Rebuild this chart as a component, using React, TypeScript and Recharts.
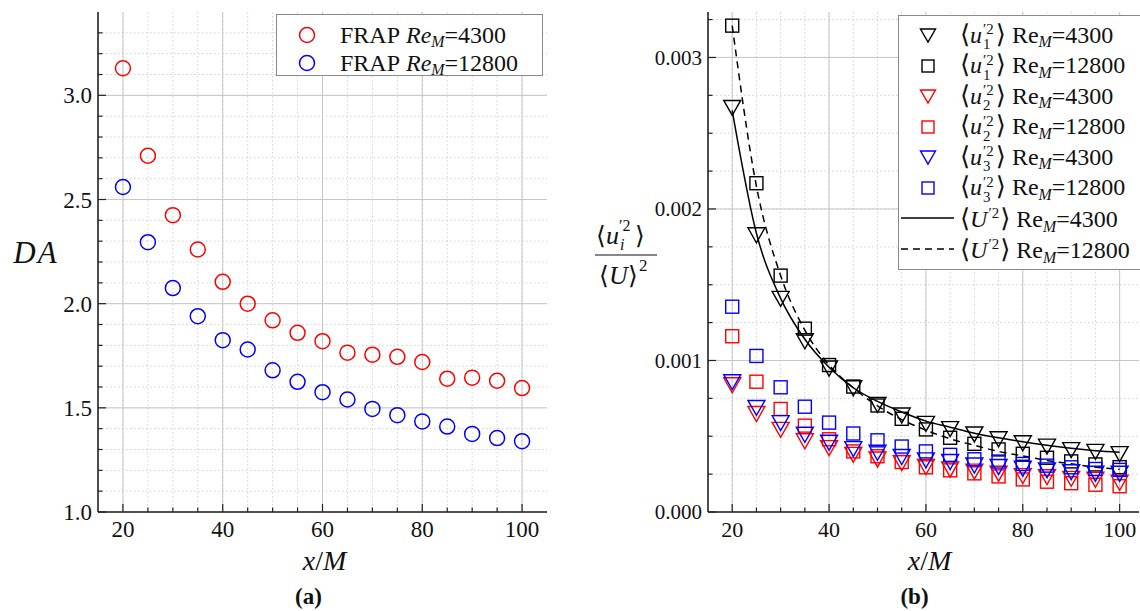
import React from 'react';
import { ComposedChart, Scatter, Line, XAxis, YAxis, CartesianGrid, Legend } from 'recharts';

// x/M stations shared by both panels
const xOverM = [20, 25, 30, 35, 40, 45, 50, 55, 60, 65, 70, 75, 80, 85, 90, 95, 100];
const xTicks = [20, 25, 30, 35, 40, 45, 50, 55, 60, 65, 70, 75, 80, 85, 90, 95, 100];
const xMajorTicks = [20, 40, 60, 80, 100];

// (a) degree of anisotropy
const daRe4300 = [3.13, 2.71, 2.425, 2.26, 2.105, 2.0, 1.92, 1.86, 1.82, 1.765, 1.755, 1.745, 1.72, 1.64, 1.645, 1.63, 1.595];
const daRe12800 = [2.56, 2.295, 2.075, 1.94, 1.825, 1.78, 1.68, 1.625, 1.575, 1.54, 1.495, 1.465, 1.435, 1.41, 1.375, 1.355, 1.34];
const daTicks = [1.0, 1.1, 1.2, 1.3, 1.4, 1.5, 1.6, 1.7, 1.8, 1.9, 2.0, 2.1, 2.2, 2.3, 2.4, 2.5, 2.6, 2.7, 2.8, 2.9, 3.0, 3.1, 3.2, 3.3];
const daMajorTicks = [1.0, 1.5, 2.0, 2.5, 3.0];

// (b) normalised velocity variances
const u1Re4300 = [0.00267, 0.00183, 0.00141, 0.00113, 0.00095, 0.00082, 0.00071, 0.00064, 0.000585, 0.00055, 0.000515, 0.000483, 0.000457, 0.000435, 0.000412, 0.0004, 0.000385];
const u1Re12800 = [0.00321, 0.00217, 0.00156, 0.00121, 0.00097, 0.000828, 0.000703, 0.000615, 0.000545, 0.00049, 0.00045, 0.000413, 0.000384, 0.000358, 0.000334, 0.000314, 0.000296];
const u2Re4300 = [0.00084, 0.00065, 0.000545, 0.00047, 0.000425, 0.00038, 0.00035, 0.000326, 0.0003, 0.000284, 0.00027, 0.000256, 0.00024, 0.000233, 0.000222, 0.000216, 0.000196];
const u2Re12800 = [0.00116, 0.00086, 0.00068, 0.00057, 0.00048, 0.0004, 0.000368, 0.00033, 0.000295, 0.000275, 0.000255, 0.000235, 0.000215, 0.0002, 0.00019, 0.00018, 0.00017];
const u3Re4300 = [0.00086, 0.00069, 0.00059, 0.000513, 0.00046, 0.000418, 0.000394, 0.000366, 0.000344, 0.000333, 0.00031, 0.0003, 0.000289, 0.000278, 0.000266, 0.000256, 0.000256];
const u3Re12800 = [0.001355, 0.00103, 0.000823, 0.000695, 0.00059, 0.000518, 0.000473, 0.000432, 0.0004, 0.000377, 0.000348, 0.000333, 0.000317, 0.000306, 0.000295, 0.000284, 0.000278];
const uTotRe4300 = [0.00265, 0.00184, 0.00141, 0.00114, 0.000955, 0.00082, 0.00073, 0.00066, 0.0006, 0.00056, 0.00052, 0.00049, 0.000463, 0.00044, 0.00042, 0.000405, 0.000395];
const uTotRe12800 = [0.00321, 0.00215, 0.00156, 0.0012, 0.00097, 0.00082, 0.0007, 0.00061, 0.00054, 0.000483, 0.00044, 0.0004, 0.00037, 0.00034, 0.000318, 0.000296, 0.000282];
const uTicks = [0, 0.00025, 0.0005, 0.00075, 0.001, 0.00125, 0.0015, 0.00175, 0.002, 0.00225, 0.0025, 0.00275, 0.003, 0.00325];
const uMajorTicks = [0, 0.001, 0.002, 0.003];

const dataA = xOverM.map((x, i) => ({ x, re4300: daRe4300[i], re12800: daRe12800[i] }));
const dataB = xOverM.map((x, i) => ({
  x,
  u1a: u1Re4300[i],
  u1b: u1Re12800[i],
  u2a: u2Re4300[i],
  u2b: u2Re12800[i],
  u3a: u3Re4300[i],
  u3b: u3Re12800[i],
  totA: uTotRe4300[i],
  totB: uTotRe12800[i],
}));

const SERIF = "'Liberation Serif', 'Times New Roman', 'DejaVu Serif', serif";
const BRACKET = "'DejaVu Serif', 'DejaVu Sans', serif";
const INK = '#111';
const AXIS = '#222';
const RED = '#ff0000';
const BLUE = '#0000ff';

type Side = 'bottom' | 'top' | 'left' | 'right';

const inList = (list: number[]) => (v: number) => list.some((m) => Math.abs(m - v) < 1e-9);

// inward tick marks (long for major, short for minor) plus the label for majors
const makeTick = (side: Side, majors: number[], fmt: ((v: number) => string) | null, fontSize: number) => {
  const isMajor = inList(majors);
  const TickMark = (props: any) => {
    const { x, y, payload } = props;
    const v = Number(payload.value);
    const major = isMajor(v);
    const len = major ? 8 : 4.5;
    let x2 = x;
    let y2 = y;
    if (side === 'bottom') y2 = y - len;
    if (side === 'top') y2 = y + len;
    if (side === 'left') x2 = x + len;
    if (side === 'right') x2 = x - len;
    const label = fmt && major ? fmt(v) : null;
    return (
      <g>
        <line x1={x} y1={y} x2={x2} y2={y2} stroke={AXIS} strokeWidth={1.2} />
        {label && side === 'bottom' && (
          <text x={x} y={y + 25} textAnchor="middle" style={{ fontFamily: SERIF }} fontSize={fontSize} fill={INK}>
            {label}
          </text>
        )}
        {label && side === 'left' && (
          <text x={x - 6} y={y} dy="0.35em" textAnchor="end" style={{ fontFamily: SERIF }} fontSize={fontSize} fill={INK}>
            {label}
          </text>
        )}
      </g>
    );
  };
  return TickMark;
};

const ring = (color: string) => (p: any) => (
  <circle cx={p.cx} cy={p.cy} r={7.5} fill="none" stroke={color} strokeWidth={1.5} />
);
const triDown = (color: string) => (p: any) => (
  <polygon
    points={`${p.cx - 8.5},${p.cy - 7} ${p.cx + 8.5},${p.cy - 7} ${p.cx},${p.cy + 8}`}
    fill="none"
    stroke={color}
    strokeWidth={1.4}
  />
);
const square = (color: string) => (p: any) => (
  <rect x={p.cx - 6.5} y={p.cy - 6.5} width={13} height={13} fill="none" stroke={color} strokeWidth={1.4} />
);

const axisLine = { stroke: AXIS, strokeWidth: 1.6 };

const xTitle = (caption: string, dxTitle: number, dxCaption: number) => (props: any) => {
  const vb = props.viewBox;
  const cx = vb.x + vb.width / 2;
  return (
    <g style={{ fontFamily: SERIF }} fill={INK}>
      <text x={cx + dxTitle} y={vb.y + 58} textAnchor="middle" fontSize={28}>
        <tspan fontStyle="italic">x</tspan>/<tspan fontStyle="italic">M</tspan>
      </text>
      <text x={cx + dxCaption} y={vb.y + 92} textAnchor="middle" fontSize={23} fontWeight="bold">
        {caption}
      </text>
    </g>
  );
};

const daTitle = (props: any) => {
  const vb = props.viewBox;
  return (
    <text x={vb.x + 36} y={vb.y + 240} dy="0.35em" textAnchor="middle" style={{ fontFamily: SERIF }} fontStyle="italic" fontSize={31} letterSpacing={2} fill={INK}>
      DA
    </text>
  );
};

// <u_i'^2> / <U>^2 drawn as a stacked fraction
const varianceTitle = (props: any) => {
  const vb = props.viewBox;
  const l = vb.x + 35;
  const mid = 255;
  return (
    <g fill={INK} style={{ fontFamily: SERIF }}>
      <text x={l + 1} y={mid - 11} style={{ fontFamily: BRACKET }} fontSize={25} fontWeight={200}>⟨</text>
      <text x={l + 11} y={mid - 11} fontSize={26} fontStyle="italic">u</text>
      <text x={l + 24} y={mid - 24} fontSize={16}>′2</text>
      <text x={l + 25} y={mid - 5} fontSize={16} fontStyle="italic">i</text>
      <text x={l + 40} y={mid - 11} style={{ fontFamily: BRACKET }} fontSize={25} fontWeight={200}>⟩</text>
      <line x1={l} x2={l + 62} y1={mid} y2={mid} stroke={INK} strokeWidth={1.2} />
      <text x={l + 4} y={mid + 29} style={{ fontFamily: BRACKET }} fontSize={25} fontWeight={200}>⟨</text>
      <text x={l + 14} y={mid + 29} fontSize={26} fontStyle="italic">U</text>
      <text x={l + 33} y={mid + 29} style={{ fontFamily: BRACKET }} fontSize={25} fontWeight={200}>⟩</text>
      <text x={l + 44} y={mid + 16} fontSize={17}>2</text>
    </g>
  );
};

// ---------- legends ----------
const legendA = [
  { color: RED, re: '4300' },
  { color: BLUE, re: '12800' },
];

const SubM = () => (
  <span style={{ fontSize: '0.66em', fontStyle: 'italic', position: 'relative', top: '0.3em' }}>M</span>
);

const LegendA = () => (
  <div
    style={{
      width: 267,
      height: 62,
      border: '1px solid #8a8a8a',
      background: '#fff',
      boxSizing: 'border-box',
      paddingTop: 6,
      fontFamily: SERIF,
      fontSize: 24,
      color: INK,
    }}
  >
    {legendA.map((e) => (
      <div key={e.re} style={{ height: 28, display: 'flex', alignItems: 'center', whiteSpace: 'nowrap' }}>
        <svg width={63} height={28} style={{ flex: 'none' }}>
          <circle cx={30} cy={14} r={7.5} fill="none" stroke={e.color} strokeWidth={1.5} />
        </svg>
        <span>
          FRAP&nbsp;<i>Re</i>
          <SubM />={e.re}
        </span>
      </div>
    ))}
  </div>
);

const legendB = [
  { mark: 'tri', color: '#000', comp: '1', re: '4300' },
  { mark: 'sq', color: '#000', comp: '1', re: '12800' },
  { mark: 'tri', color: RED, comp: '2', re: '4300' },
  { mark: 'sq', color: RED, comp: '2', re: '12800' },
  { mark: 'tri', color: BLUE, comp: '3', re: '4300' },
  { mark: 'sq', color: BLUE, comp: '3', re: '12800' },
  { mark: 'solid', color: '#000', comp: '', re: '4300' },
  { mark: 'dash', color: '#000', comp: '', re: '12800' },
];

const Bracket = ({ ch }: { ch: string }) => (
  <span style={{ fontFamily: BRACKET, fontWeight: 200, fontSize: '1.08em' }}>{ch}</span>
);

const Stack = ({ top, bottom }: { top: string; bottom: string }) => (
  <span
    style={{
      display: 'inline-flex',
      flexDirection: 'column',
      fontSize: '0.62em',
      lineHeight: 1,
      verticalAlign: 'middle',
      marginLeft: 1,
      marginRight: 2,
    }}
  >
    <span>{top}</span>
    <span>{bottom || '\u00a0'}</span>
  </span>
);

const LegendMark = ({ mark, color }: { mark: string; color: string }) => (
  <svg width={61} height={30} style={{ flex: 'none' }}>
    {mark === 'tri' && <polygon points="21.5,9 36.5,9 29,22" fill="none" stroke={color} strokeWidth={1.4} />}
    {mark === 'sq' && <rect x={23} y={9} width={12} height={12} fill="none" stroke={color} strokeWidth={1.4} />}
    {mark === 'solid' && <line x1={2} x2={55} y1={15} y2={15} stroke={color} strokeWidth={1.5} />}
    {mark === 'dash' && <line x1={2} x2={55} y1={15} y2={15} stroke={color} strokeWidth={1.5} strokeDasharray="7 5" />}
  </svg>
);

const LegendB = () => (
  <div
    style={{
      width: 300,
      height: 255,
      border: '1px solid #8a8a8a',
      background: '#fff',
      boxSizing: 'border-box',
      paddingTop: 4,
      fontFamily: SERIF,
      fontSize: 24,
      color: INK,
    }}
  >
    {legendB.map((e, i) => (
      <div key={i} style={{ height: 30.5, display: 'flex', alignItems: 'center', whiteSpace: 'nowrap' }}>
        <LegendMark mark={e.mark} color={e.color} />
        <span>
          <Bracket ch="⟨" />
          <i>{e.comp ? 'u' : 'U'}</i>
          {e.comp ? (
            <Stack top="′2" bottom={e.comp} />
          ) : (
            <span style={{ fontSize: '0.62em', position: 'relative', top: '-0.6em', marginLeft: 1, marginRight: 1 }}>′2</span>
          )}
          <Bracket ch="⟩" />
          &nbsp;Re
          <SubM />={e.re}
        </span>
      </div>
    ))}
  </div>
);

// ---------- panels ----------
const PanelA = () => (
  <ComposedChart width={560} height={611} data={dataA} margin={{ top: 12, right: 13, bottom: 0, left: 0 }}>
    <CartesianGrid horizontalValues={daTicks} verticalValues={xTicks} stroke="#d2d2d2" strokeDasharray="1.5 2.5" />
    <CartesianGrid horizontalValues={daMajorTicks} verticalValues={xMajorTicks} stroke="#c6c6c6" />
    <XAxis
      dataKey="x"
      type="number"
      domain={[15, 105]}
      ticks={xTicks}
      interval={0}
      tickSize={0}
      tickMargin={0}
      tickLine={false}
      tick={makeTick('bottom', xMajorTicks, (v) => String(v), 23)}
      axisLine={axisLine}
      height={99}
      label={{ content: xTitle('(a)', 2, -14) }}
    />
    <XAxis xAxisId="top" orientation="top" type="number" domain={[15, 105]} ticks={xTicks} interval={0} tickSize={0} tickMargin={0} tickLine={false} tick={makeTick('top', xMajorTicks, null, 23)} axisLine={axisLine} height={0} />
    <YAxis
      type="number"
      domain={[1, 3.4]}
      allowDataOverflow
      ticks={daTicks}
      interval={0}
      tickSize={0}
      tickMargin={0}
      tickLine={false}
      tick={makeTick('left', daMajorTicks, (v) => v.toFixed(1), 23)}
      axisLine={axisLine}
      width={98}
      label={{ content: daTitle }}
    />
    <YAxis yAxisId="right" orientation="right" type="number" domain={[1, 3.4]} allowDataOverflow ticks={daTicks} interval={0} tickSize={0} tickMargin={0} tickLine={false} tick={makeTick('right', daMajorTicks, null, 23)} axisLine={axisLine} width={0} />
    <Scatter dataKey="re4300" name="FRAP ReM=4300" shape={ring(RED)} isAnimationActive={false} />
    <Scatter dataKey="re12800" name="FRAP ReM=12800" shape={ring(BLUE)} isAnimationActive={false} />
    <Legend
      layout="horizontal"
      verticalAlign="middle"
      align="center"
      content={() => <LegendA />}
      wrapperStyle={{ position: 'absolute', left: 276, top: 14, width: 267, height: 62 }}
    />
  </ComposedChart>
);

const PanelB = () => (
  <ComposedChart width={580} height={611} data={dataB} margin={{ top: 12, right: 1, bottom: 0, left: 0 }}>
    <CartesianGrid horizontalValues={uTicks} verticalValues={xTicks} stroke="#d2d2d2" strokeDasharray="1.5 2.5" />
    <CartesianGrid horizontalValues={uMajorTicks} verticalValues={xMajorTicks} stroke="#c6c6c6" />
    <XAxis
      dataKey="x"
      type="number"
      domain={[15, 104]}
      allowDataOverflow
      ticks={xTicks}
      interval={0}
      tickSize={0}
      tickMargin={0}
      tickLine={false}
      tick={makeTick('bottom', xMajorTicks, (v) => String(v), 22)}
      axisLine={axisLine}
      height={99}
      label={{ content: xTitle('(b)', 6, -9) }}
    />
    <XAxis xAxisId="top" orientation="top" type="number" domain={[15, 104]} allowDataOverflow ticks={xTicks} interval={0} tickSize={0} tickMargin={0} tickLine={false} tick={makeTick('top', xMajorTicks, null, 22)} axisLine={axisLine} height={0} />
    <YAxis
      type="number"
      domain={[0, 0.0033]}
      allowDataOverflow
      ticks={uTicks}
      interval={0}
      tickSize={0}
      tickMargin={0}
      tickLine={false}
      tick={makeTick('left', uMajorTicks, (v) => v.toFixed(3), 21)}
      axisLine={axisLine}
      width={148}
      label={{ content: varianceTitle }}
    />
    <YAxis yAxisId="right" orientation="right" type="number" domain={[0, 0.0033]} allowDataOverflow ticks={uTicks} interval={0} tickSize={0} tickMargin={0} tickLine={false} tick={makeTick('right', uMajorTicks, null, 21)} axisLine={axisLine} width={0} />
    <Scatter dataKey="u1a" shape={triDown('#000')} isAnimationActive={false} />
    <Scatter dataKey="u1b" shape={square('#000')} isAnimationActive={false} />
    <Scatter dataKey="u2a" shape={triDown(RED)} isAnimationActive={false} />
    <Scatter dataKey="u2b" shape={square(RED)} isAnimationActive={false} />
    <Scatter dataKey="u3a" shape={triDown(BLUE)} isAnimationActive={false} />
    <Scatter dataKey="u3b" shape={square(BLUE)} isAnimationActive={false} />
    <Line type="monotone" dataKey="totA" stroke="#000" strokeWidth={1.5} dot={false} activeDot={false} isAnimationActive={false} />
    <Line type="monotone" dataKey="totB" stroke="#000" strokeWidth={1.5} strokeDasharray="7 5" dot={false} activeDot={false} isAnimationActive={false} />
    <Legend
      layout="horizontal"
      verticalAlign="middle"
      align="center"
      content={() => <LegendB />}
      wrapperStyle={{ position: 'absolute', left: 338, top: 15, width: 300, height: 255 }}
    />
  </ComposedChart>
);

export default function App() {
  return (
    <div style={{ position: 'absolute', left: 0, top: 0, width: 1140, height: 611, overflow: 'hidden', background: '#fff' }}>
      <div style={{ position: 'absolute', left: 0, top: 0 }}>
        <PanelA />
      </div>
      <div style={{ position: 'absolute', left: 560, top: 0 }}>
        <PanelB />
      </div>
    </div>
  );
}
